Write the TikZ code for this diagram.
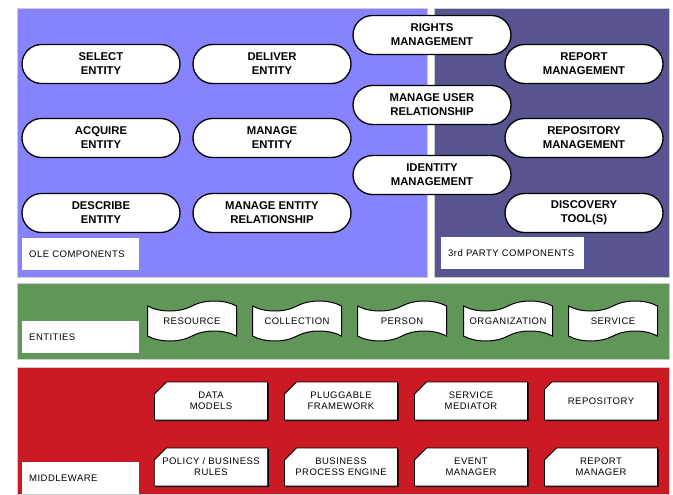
\documentclass[tikz,border=0pt]{standalone}
\usepackage{fontspec}
\setmainfont{Liberation Sans}
\newfontfamily\lblfont[LetterSpace=5]{Liberation Sans}
\usetikzlibrary{shapes.misc}
\usetikzlibrary{shapes.symbols}
\usetikzlibrary{shadows}

\definecolor{olecol}{RGB}{135,131,255}
\definecolor{partycol}{RGB}{88,84,146}
\definecolor{entcol}{RGB}{96,150,88}
\definecolor{midcol}{RGB}{204,26,36}

\tikzset{
	panel/.style={draw=gray!40, line width=0.6pt},
	procnode/.style={rounded rectangle, draw=black, line width=1.3pt, fill=white,
		minimum width=158pt, minimum height=39pt, inner sep=0pt, align=center,
		font=\fontsize{11.3}{14}\selectfont\bfseries},
	entnode/.style={tape, draw=black, line width=1pt, fill=white,
		minimum width=89pt, minimum height=40pt, tape bend height=10pt, inner sep=0pt,
		font=\lblfont\fontsize{9.5}{11}\selectfont},
	mwnode/.style={chamfered rectangle, chamfered rectangle corners=north west,
		chamfered rectangle xsep=8pt, chamfered rectangle ysep=4pt,
		draw=black, line width=0.8pt, fill=white, minimum width=113pt, minimum height=38pt,
		inner sep=0pt, align=center, font=\lblfont\fontsize{9.5}{11}\selectfont,
		drop shadow={shadow xshift=1.2pt, shadow yshift=-1.2pt, opacity=1, fill=black}},
	tagbox/.style={fill=white, inner xsep=7pt, inner ysep=0pt, text width=#1,
		minimum height=32pt, align=left, anchor=north west,
		font=\lblfont\fontsize{9.5}{11}\selectfont}
}

\begin{document}
\begin{tikzpicture}[x=1pt, y=-1pt]

	\useasboundingbox (0,0) rectangle (673,495);

	% layers
	\fill[olecol] (17,8) rectangle (427,277);
	\draw[panel] (17,8) rectangle (427,277);
	\fill[partycol] (434,8) rectangle (669,277);
	\draw[panel] (434,8) rectangle (669,277);
	\fill[entcol] (17,283) rectangle (669,359);
	\draw[panel] (17,283) rectangle (669,359);
	\fill[midcol] (17,367) rectangle (669,494);
	\draw[panel] (17,367) rectangle (669,494);

	% OLE components
	\node[procnode] (select) at (101,64) {SELECT\\ENTITY};
	\node[procnode] (deliver) at (272,64) {DELIVER\\ENTITY};
	\node[procnode] (acquire) at (101,138) {ACQUIRE\\ENTITY};
	\node[procnode] (manage) at (272,138) {MANAGE\\ENTITY};
	\node[procnode] (describe) at (101,213) {DESCRIBE\\ENTITY};
	\node[procnode] (relation) at (272,213) {MANAGE ENTITY\\RELATIONSHIP};

	\node[procnode] (rights) at (432,35) {RIGHTS\\MANAGEMENT};
	\node[procnode] (userrel) at (432,105) {MANAGE USER\\RELATIONSHIP};
	\node[procnode] (identity) at (432,175) {IDENTITY\\MANAGEMENT};

	% 3rd party components
	\node[procnode] (report) at (584,64) {REPORT\\MANAGEMENT};
	\node[procnode] (repomgmt) at (584,138) {REPOSITORY\\MANAGEMENT};
	\node[procnode] (discovery) at (584,213) {DISCOVERY\\TOOL(S)};

	\node[tagbox=103pt] (oletag) at (22,238) {OLE COMPONENTS};
	\node[tagbox=129pt] (partytag) at (441,237) {3rd PARTY COMPONENTS};

	% entities
	\node[tagbox=103pt] (enttag) at (22,321) {ENTITIES};
	\node[entnode] (resource) at (192,321) {RESOURCE};
	\node[entnode] (collection) at (297,321) {COLLECTION};
	\node[entnode] (person) at (402,321) {PERSON};
	\node[entnode] (organization) at (508,321) {ORGANIZATION};
	\node[entnode] (service) at (613,321) {SERVICE};

	% middleware
	\node[tagbox=103pt] (midtag) at (22,462) {MIDDLEWARE};
	\node[mwnode] (datamodels) at (211,401) {DATA\\MODELS};
	\node[mwnode] (pluggable) at (341,401) {PLUGGABLE\\FRAMEWORK};
	\node[mwnode] (mediator) at (471,401) {SERVICE\\MEDIATOR};
	\node[mwnode] (repository) at (601,401) {REPOSITORY};
	\node[mwnode] (policy) at (211,467) {POLICY / BUSINESS\\RULES};
	\node[mwnode] (engine) at (341,467) {BUSINESS\\PROCESS ENGINE};
	\node[mwnode] (event) at (471,467) {EVENT\\MANAGER};
	\node[mwnode] (repmanager) at (601,467) {REPORT\\MANAGER};

\end{tikzpicture}
\end{document}
